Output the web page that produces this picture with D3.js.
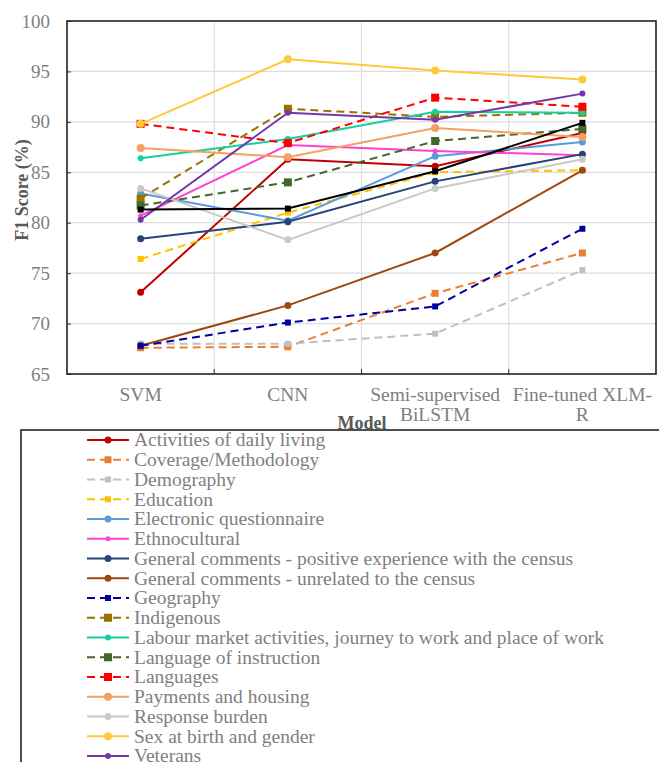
<!DOCTYPE html>
<html>
<head>
<meta charset="utf-8">
<script src="https://cdn.jsdelivr.net/npm/d3@7"></script>
<style>
  body { margin: 0; background: #fff; }
  svg { display: block; font-family: "Liberation Serif", "Times New Roman", serif; }
</style>
</head>
<body>
<svg id="chart" width="659" height="762"></svg>
<script>
const models = ["SVM", "CNN", "Semi-supervised BiLSTM", "Fine-tuned XLM-R"];
const modelLabels = [["SVM"], ["CNN"], ["Semi-supervised", "BiLSTM"], ["Fine-tuned XLM-", "R"]];
const yTicks = [65, 70, 75, 80, 85, 90, 95, 100];

// one array of F1 values per topic, in model order
const activities   = [73.1, 86.3, 85.6, 88.9];
const coverage     = [67.6, 67.7, 73.0, 77.0];
const demography   = [68.0, 68.0, 69.0, 75.3];
const education    = [76.4, 81.0, 85.0, 85.2];
const electronic   = [82.9, 80.2, 86.6, 88.0];
const ethno        = [80.7, 87.7, 87.1, 86.7];
const genPositive  = [78.4, 80.1, 84.1, 86.8];
const genUnrelated = [67.8, 71.8, 77.0, 85.2];
const geography    = [67.8, 70.1, 71.7, 79.4];
const indigenous   = [82.4, 91.3, 90.5, 90.9];
const labour       = [86.4, 88.3, 91.0, 90.9];
const langInstr    = [81.7, 84.0, 88.1, 89.3];
const languages    = [89.8, 87.9, 92.4, 91.5];
const payments     = [87.4, 86.5, 89.4, 88.5];
const response     = [83.4, 78.3, 83.4, 86.3];
const sexGender    = [89.8, 96.2, 95.1, 94.2];
const veterans     = [80.3, 90.9, 90.2, 92.8];
const other        = [81.3, 81.4, 85.1, 89.9];

const series = [
  {name: "Activities of daily living", values: activities, color: "#c00000", dash: false, shape: "circle", r: 3.5},
  {name: "Coverage/Methodology", values: coverage, color: "#ed7d31", dash: true, shape: "square", r: 3.5},
  {name: "Demography", values: demography, color: "#bfbfbf", dash: true, shape: "square", r: 3},
  {name: "Education", values: education, color: "#ffc000", dash: true, shape: "square", r: 3},
  {name: "Electronic questionnaire", values: electronic, color: "#5b9bd5", dash: false, shape: "circle", r: 3.5},
  {name: "Ethnocultural", values: ethno, color: "#ff40d0", dash: false, shape: "circle", r: 2.5},
  {name: "General comments - positive experience with the census", values: genPositive, color: "#264478", dash: false, shape: "circle", r: 3.5},
  {name: "General comments - unrelated to the census", values: genUnrelated, color: "#9e480e", dash: false, shape: "circle", r: 3.5},
  {name: "Geography", values: geography, color: "#0000a0", dash: true, shape: "square", r: 3},
  {name: "Indigenous", values: indigenous, color: "#997300", dash: true, shape: "square", r: 4},
  {name: "Labour market activities, journey to work and place of work", values: labour, color: "#14d0a0", dash: false, shape: "circle", r: 3},
  {name: "Language of instruction", values: langInstr, color: "#43682b", dash: true, shape: "square", r: 4},
  {name: "Languages", values: languages, color: "#ff0000", dash: true, shape: "square", r: 4},
  {name: "Payments and housing", values: payments, color: "#f4a060", dash: false, shape: "circle", r: 4},
  {name: "Response burden", values: response, color: "#c9c9c9", dash: false, shape: "circle", r: 3.5},
  {name: "Sex at birth and gender", values: sexGender, color: "#ffc93c", dash: false, shape: "circle", r: 4},
  {name: "Veterans", values: veterans, color: "#7436a8", dash: false, shape: "circle", r: 3},
  {name: "Other", values: other, color: "#000000", dash: false, shape: "square", r: 3}
];

const svg = d3.select("#chart");
const plot = {left: 67, right: 656, top: 21, bottom: 374};

const x = d3.scaleBand().domain(models).range([plot.left, plot.right]);
const y = d3.scaleLinear().domain([65, 100]).range([plot.bottom, plot.top]);
const cx = m => x(m) + x.bandwidth() / 2;

// gridlines
svg.append("g").selectAll("line.h")
  .data(yTicks.filter(t => t > 65 && t < 100))
  .enter().append("line")
    .attr("x1", plot.left).attr("x2", plot.right)
    .attr("y1", d => y(d)).attr("y2", d => y(d))
    .attr("stroke", "#dedede").attr("stroke-width", 1.2);

svg.append("g").selectAll("line.v")
  .data(models.slice(1))
  .enter().append("line")
    .attr("x1", d => x(d)).attr("x2", d => x(d))
    .attr("y1", plot.top).attr("y2", plot.bottom)
    .attr("stroke", "#dedede").attr("stroke-width", 1.2);

// y axis
const yAxis = svg.append("g")
  .attr("transform", `translate(${plot.left},0)`)
  .call(d3.axisLeft(y).tickValues(yTicks).tickSizeInner(-4).tickSizeOuter(0).tickPadding(17));
yAxis.select(".domain").remove();
yAxis.selectAll("line").attr("stroke", "#333");
yAxis.selectAll("text")
  .style("font-family", "Liberation Serif")
  .style("font-size", "19px")
  .attr("fill", "#808080");

// x tick marks at band boundaries
svg.append("g").selectAll("line")
  .data(models.slice(1))
  .enter().append("line")
    .attr("x1", d => x(d)).attr("x2", d => x(d))
    .attr("y1", plot.bottom).attr("y2", plot.bottom - 5)
    .attr("stroke", "#333");

// x labels
const xl = svg.append("g");
models.forEach((m, i) => {
  const t = xl.append("text")
    .attr("x", cx(m)).attr("y", 401)
    .attr("text-anchor", "middle")
    .attr("fill", "#808080")
    .style("font-size", "19.5px");
  modelLabels[i].forEach((line, j) => {
    t.append("tspan").attr("x", cx(m)).attr("dy", j === 0 ? 0 : 20).text(line);
  });
});

// frame
svg.append("rect")
  .attr("x", plot.left).attr("y", plot.top)
  .attr("width", plot.right - plot.left).attr("height", plot.bottom - plot.top)
  .attr("fill", "none").attr("stroke", "#222").attr("stroke-width", 1.6);

// lines and markers
const line = d3.line().x((d, i) => cx(models[i])).y(d => y(d));

series.forEach(s => {
  const g = svg.append("g");
  g.append("path")
    .attr("d", line(s.values))
    .attr("fill", "none")
    .attr("stroke", s.color)
    .attr("stroke-width", 2)
    .attr("stroke-dasharray", s.dash ? "8,5" : null);
  if (s.shape === "circle") {
    g.selectAll("circle").data(s.values).enter().append("circle")
      .attr("cx", (d, i) => cx(models[i])).attr("cy", d => y(d))
      .attr("r", s.r).attr("fill", s.color);
  } else {
    g.selectAll("rect").data(s.values).enter().append("rect")
      .attr("x", (d, i) => cx(models[i]) - s.r).attr("y", d => y(d) - s.r)
      .attr("width", s.r * 2).attr("height", s.r * 2).attr("fill", s.color);
  }
});

// axis titles
svg.append("text")
  .attr("transform", "translate(28,190) rotate(-90)")
  .attr("text-anchor", "middle")
  .attr("fill", "#595959")
  .style("font-size", "18px").style("font-weight", "bold")
  .text("F1 Score (%)");

// legend box (runs past the right and bottom edge)
svg.append("rect")
  .attr("x", 21).attr("y", 430).attr("width", 700).attr("height", 400)
  .attr("fill", "#fff").attr("stroke", "#222").attr("stroke-width", 1.6);

svg.append("text")
  .attr("x", 362).attr("y", 429)
  .attr("text-anchor", "middle")
  .attr("fill", "#595959")
  .style("font-size", "18px").style("font-weight", "bold")
  .text("Model");

const lg = svg.append("g").selectAll("g")
  .data(series)
  .enter().append("g")
    .attr("transform", (d, i) => `translate(0,${440 + i * 19.75})`);

lg.append("line")
  .attr("x1", 87).attr("x2", 129)
  .attr("stroke", d => d.color).attr("stroke-width", 2)
  .attr("stroke-dasharray", d => d.dash ? "8,5" : null);
lg.filter(d => d.shape === "circle").append("circle")
  .attr("cx", 108).attr("r", d => d.r).attr("fill", d => d.color);
lg.filter(d => d.shape === "square").append("rect")
  .attr("x", d => 108 - d.r).attr("y", d => -d.r)
  .attr("width", d => d.r * 2).attr("height", d => d.r * 2)
  .attr("fill", d => d.color);
lg.append("text")
  .attr("x", 134).attr("dy", "0.33em")
  .attr("fill", "#808080")
  .style("font-size", "19.5px")
  .text(d => d.name);
</script>
</body>
</html>
